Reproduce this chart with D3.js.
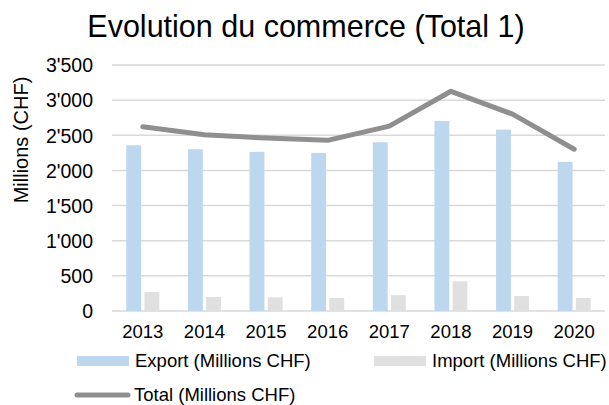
<!DOCTYPE html>
<html>
<head>
<meta charset="utf-8">
<script src="https://cdn.jsdelivr.net/npm/d3@7"></script>
<style>
  body { margin: 0; background: #fff; }
  text { font-family: Arial, "Liberation Sans", sans-serif; fill: #000; }
</style>
</head>
<body>
<div id="chart"></div>
<script>
// chart data
const years = ["2013", "2014", "2015", "2016", "2017", "2018", "2019", "2020"];
const exportVals = [2358, 2302, 2264, 2250, 2401, 2704, 2581, 2122];
const importVals = [270, 200, 195, 185, 225, 422, 213, 185];
const totalVals = [2622, 2508, 2460, 2428, 2630, 3126, 2800, 2302];
const yTicks = [0, 500, 1000, 1500, 2000, 2500, 3000, 3500];
const seriesNames = ["Export (Millions CHF)", "Import (Millions CHF)", "Total (Millions CHF)"];

const width = 609, height = 405;
const colors = { export: "#bdd7ee", import: "#e0e0e0", total: "#8f8f8f", grid: "#d9d9d9" };

const locale = d3.formatLocale({ decimal: ".", thousands: "'", grouping: [3], currency: ["", ""] });
const fmt = locale.format(",");

const svg = d3.select("#chart").append("svg")
    .attr("width", width)
    .attr("height", height);

// scales
const x = d3.scaleBand().domain(years).range([112, 605]);
const groupW = 33;
const xs = d3.scaleBand().domain(["export", "import"])
    .range([x.bandwidth() / 2 - groupW / 2, x.bandwidth() / 2 + groupW / 2])
    .paddingInner(0.18);
const y = d3.scaleLinear().domain([0, 3500]).range([311, 65]);

// title
svg.append("text")
    .attr("x", 306).attr("y", 37)
    .attr("text-anchor", "middle")
    .style("font-size", "30.5px")
    .text("Evolution du commerce (Total 1)");

// gridlines
svg.append("g").selectAll("line")
    .data(yTicks).join("line")
    .attr("x1", 112).attr("x2", 605)
    .attr("y1", d => y(d)).attr("y2", d => y(d))
    .attr("stroke", colors.grid).attr("stroke-width", 1.5);

// y axis labels
const yAxis = svg.append("g")
    .attr("transform", "translate(112,0)")
    .call(d3.axisLeft(y).tickValues(yTicks).tickFormat(fmt).tickSize(0).tickPadding(19));
yAxis.select(".domain").remove();
yAxis.selectAll("text").style("font-size", "19.5px").attr("fill", "#000").attr("dy", "0.35em");

// y axis title
svg.append("text")
    .attr("transform", "translate(28,140) rotate(-90)")
    .attr("text-anchor", "middle")
    .style("font-size", "20px")
    .text("Millions (CHF)");

// x axis labels
const xAxis = svg.append("g")
    .attr("transform", "translate(0,311)")
    .call(d3.axisBottom(x).tickSize(0).tickPadding(14));
xAxis.select(".domain").remove();
xAxis.selectAll("text").style("font-size", "18.5px").attr("fill", "#000");

// bars
const groups = svg.append("g").selectAll("g")
    .data(years).join("g")
    .attr("transform", d => `translate(${x(d)},0)`);

groups.append("rect")
    .attr("x", xs("export"))
    .attr("width", xs.bandwidth())
    .attr("y", (d, i) => y(exportVals[i]))
    .attr("height", (d, i) => y(0) - y(exportVals[i]))
    .attr("fill", colors.export);

groups.append("rect")
    .attr("x", xs("import"))
    .attr("width", xs.bandwidth())
    .attr("y", (d, i) => y(importVals[i]))
    .attr("height", (d, i) => y(0) - y(importVals[i]))
    .attr("fill", colors.import);

// total line
const line = d3.line()
    .x((d, i) => x(years[i]) + x.bandwidth() / 2)
    .y(d => y(d));

svg.append("path")
    .datum(totalVals)
    .attr("d", line)
    .attr("fill", "none")
    .attr("stroke", colors.total)
    .attr("stroke-width", 5)
    .attr("stroke-linejoin", "round")
    .attr("stroke-linecap", "round");

// legend
const legend = svg.append("g");
legend.append("rect").attr("x", 77).attr("y", 356).attr("width", 52).attr("height", 10).attr("fill", colors.export);
legend.append("text").attr("x", 135).attr("y", 361).attr("dy", "0.35em").style("font-size", "18.5px").text(seriesNames[0]);
legend.append("rect").attr("x", 374).attr("y", 356).attr("width", 52).attr("height", 10).attr("fill", colors.import);
legend.append("text").attr("x", 432).attr("y", 361).attr("dy", "0.35em").style("font-size", "18.5px").text(seriesNames[1]);
legend.append("line").attr("x1", 77).attr("x2", 128).attr("y1", 395).attr("y2", 395)
    .attr("stroke", colors.total).attr("stroke-width", 5).attr("stroke-linecap", "round");
legend.append("text").attr("x", 134).attr("y", 395).attr("dy", "0.35em").style("font-size", "18.5px").text(seriesNames[2]);
</script>
</body>
</html>
